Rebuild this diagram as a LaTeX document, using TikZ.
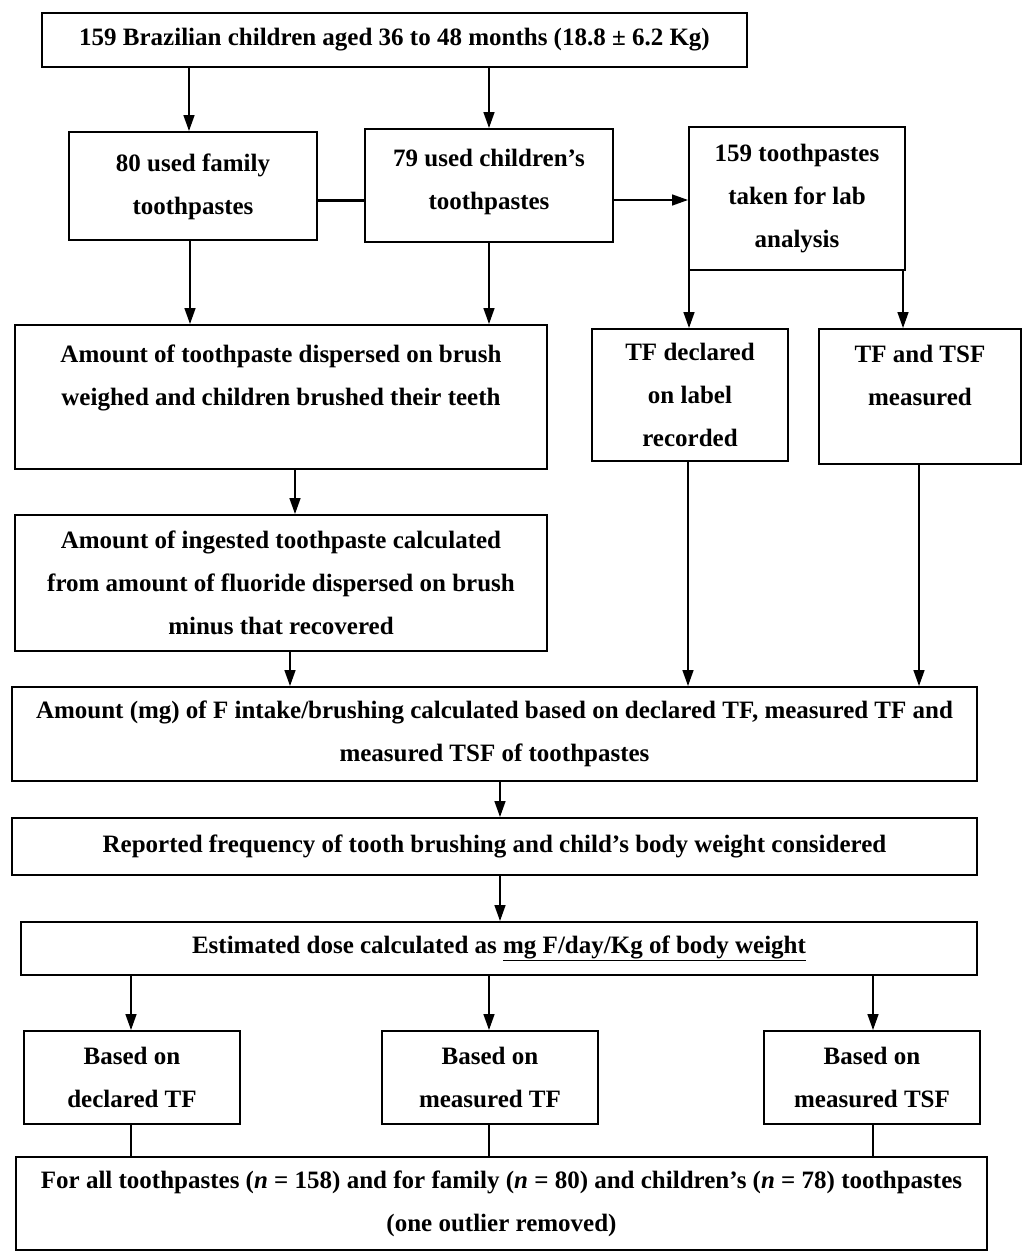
\documentclass[tikz,border=0pt]{standalone}
\usepackage{fontspec}
\setmainfont{Liberation Serif}
\usetikzlibrary{arrows.meta}
\begin{document}
\begin{tikzpicture}[x=1pt,y=-1pt,
  box/.style={draw,line width=2pt,inner sep=0pt,align=center,
    font=\fontsize{25}{43}\selectfont\bfseries},
  arr/.style={line width=1.5pt,-{Triangle[length=16pt,width=11pt]}},
  ln/.style={line width=1.5pt}]
\useasboundingbox (0,0) rectangle (1024,1258);
\fill[white] (0,0) rectangle (1024,1258);

\node[box,minimum width=705pt,minimum height=54pt] (top) at (394.5,40)
  {159 Brazilian children aged 36 to 48 months (18.8 ± 6.2 Kg)};
\node[box,minimum width=248pt,minimum height=108pt] (fam) at (193,186)
  {80 used family\\toothpastes\\[-39pt]\mbox{}};
\node[box,minimum width=248pt,minimum height=113pt] (chi) at (489,185.5)
  {79 used children’s\\toothpastes\\[-31pt]\mbox{}};
\node[box,minimum width=216pt,minimum height=143pt] (lab) at (797,198.5)
  {159 toothpastes\\taken for lab\\analysis};
\node[box,minimum width=532pt,minimum height=144pt] (disp) at (281,397)
  {Amount of toothpaste dispersed on brush\\weighed and children brushed their teeth\\\mbox{}};
\node[box,minimum width=196pt,minimum height=132pt] (decl) at (690,395)
  {TF declared\\on label\\recorded};
\node[box,minimum width=202pt,minimum height=135pt] (meas) at (920,396.5)
  {TF and TSF\\measured\\\mbox{}};
\node[box,minimum width=532pt,minimum height=136pt] (ing) at (281,583)
  {Amount of ingested toothpaste calculated\\from amount of fluoride dispersed on brush\\minus that recovered};
\node[box,minimum width=965pt,minimum height=94pt] (intake) at (494.5,734)
  {Amount (mg) of F intake/brushing calculated based on declared TF, measured TF and\\measured TSF of toothpastes};
\node[box,minimum width=965pt,minimum height=57pt] (freq) at (494.5,846.5)
  {Reported frequency of tooth brushing and child’s body weight considered};
\node[box,minimum width=956pt,minimum height=53pt] (dose) at (499,948.5)
  {Estimated dose calculated as \underline{mg F/day/Kg of body weight}};
\node[box,minimum width=216pt,minimum height=93pt] (b1) at (132,1077.5)
  {Based on\\declared TF};
\node[box,minimum width=216pt,minimum height=93pt] (b2) at (490,1077.5)
  {Based on\\measured TF};
\node[box,minimum width=216pt,minimum height=93pt] (b3) at (872,1077.5)
  {Based on\\measured TSF};
\node[box,minimum width=971pt,minimum height=93pt] (all) at (501.5,1203.5)
  {For all toothpastes (\textit{n} = 158) and for family (\textit{n} = 80) and children’s (\textit{n} = 78) toothpastes\\(one outlier removed)};

\coordinate (x131) at (131,0);
\coordinate (x189) at (189,0);
\coordinate (x190) at (190,0);
\coordinate (x489) at (489,0);
\coordinate (x295) at (295,0);
\coordinate (x290) at (290,0);
\coordinate (x688) at (688,0);
\coordinate (x689) at (689,0);
\coordinate (x903) at (903,0);
\coordinate (x919) at (919,0);
\coordinate (x500) at (500,0);
\coordinate (x873) at (873,0);
\coordinate (y200) at (0,200);

\draw[arr] (top.south -| x189) -- (fam.north -| x189);
\draw[arr] (top.south -| x489) -- (chi.north -| x489);
\draw[line width=3pt] (fam.east |- y200) -- (chi.west |- y200);
\draw[arr] (chi.east |- y200) -- (lab.west |- y200);
\draw[arr] (fam.south -| x190) -- (disp.north -| x190);
\draw[arr] (chi.south -| x489) -- (disp.north -| x489);
\draw[arr] (lab.south -| x689) -- (decl.north -| x689);
\draw[arr] (lab.south -| x903) -- (meas.north -| x903);
\draw[arr] (disp.south -| x295) -- (ing.north -| x295);
\draw[arr] (ing.south -| x290) -- (intake.north -| x290);
\draw[arr] (decl.south -| x688) -- (intake.north -| x688);
\draw[arr] (meas.south -| x919) -- (intake.north -| x919);
\draw[arr] (intake.south -| x500) -- (freq.north -| x500);
\draw[arr] (freq.south -| x500) -- (dose.north -| x500);
\draw[arr] (dose.south -| x131) -- (b1.north -| x131);
\draw[arr] (dose.south -| x489) -- (b2.north -| x489);
\draw[arr] (dose.south -| x873) -- (b3.north -| x873);
\draw[ln] (b1.south -| x131) -- (all.north -| x131);
\draw[ln] (b2.south -| x489) -- (all.north -| x489);
\draw[ln] (b3.south -| x873) -- (all.north -| x873);
\end{tikzpicture}
\end{document}
